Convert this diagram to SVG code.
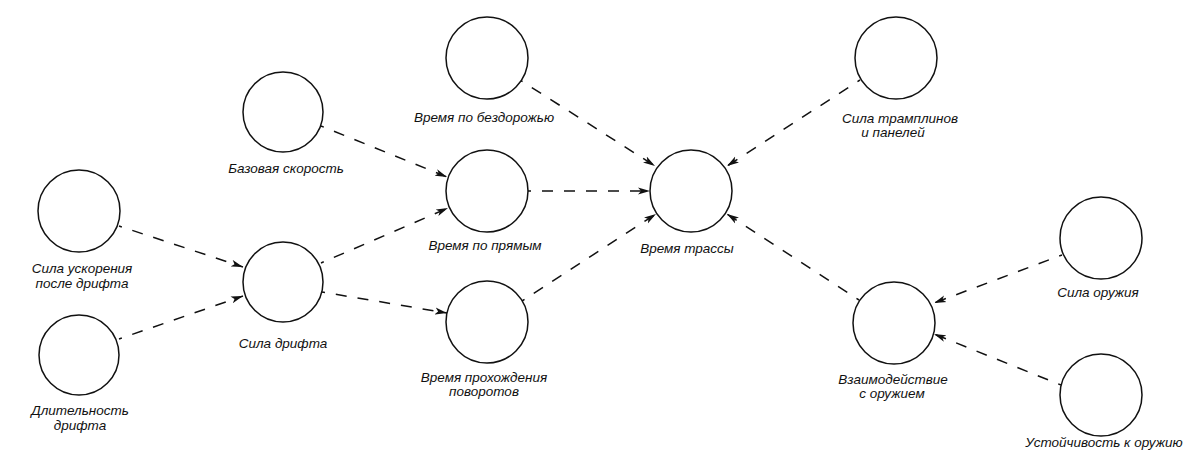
<svg xmlns="http://www.w3.org/2000/svg" width="1200" height="476" viewBox="0 0 1200 476">
<style>
.n circle{fill:#fff;stroke:#111;stroke-width:1.5}
.n text{font-family:"Liberation Sans",Arial,sans-serif;font-style:italic;font-size:13.5px;fill:#111;text-anchor:middle}
.e line{stroke:#111;stroke-width:1.5;stroke-dasharray:11 11;stroke-dashoffset:8;fill:none;marker-end:url(#ah)}
</style>
<defs>
<marker id="ah" viewBox="0 0 12 8" refX="12" refY="4" markerWidth="12" markerHeight="8" markerUnits="userSpaceOnUse" orient="auto">
<path d="M0,0.5 L12,4 L0,7.5 L3,4 Z" fill="#111"/>
</marker>
</defs>
<rect width="1200" height="476" fill="#fff"/>
<g id="connectors" class="e">
<line x1="119" y1="226" x2="243" y2="267"/>
<line x1="119" y1="339" x2="243" y2="296"/>
<line x1="321" y1="126" x2="447" y2="177"/>
<line x1="321" y1="263" x2="448" y2="208"/>
<line x1="322" y1="292" x2="447" y2="313"/>
<line x1="520" y1="80" x2="655" y2="166"/>
<line x1="528" y1="191" x2="650" y2="191"/>
<line x1="522" y1="301" x2="656" y2="214"/>
<line x1="860" y1="80" x2="727" y2="166"/>
<line x1="859" y1="300" x2="727" y2="214"/>
<line x1="1062" y1="255" x2="934" y2="303"/>
<line x1="1061" y1="385" x2="934" y2="334"/>
</g>
<g id="n1" class="n"><circle cx="79" cy="211" r="41"/><text x="82" y="273">Сила ускорения</text><text x="82" y="288">после дрифта</text></g>
<g id="n2" class="n"><circle cx="79" cy="355" r="40"/><text x="80" y="415">Длительность</text><text x="80" y="430">дрифта</text></g>
<g id="n3" class="n"><circle cx="283" cy="282" r="40"/><text x="283" y="348">Сила дрифта</text></g>
<g id="n4" class="n"><circle cx="283" cy="112" r="40"/><text x="286" y="173">Базовая скорость</text></g>
<g id="n5" class="n"><circle cx="487" cy="58" r="41"/><text x="484" y="122">Время по бездорожью</text></g>
<g id="n6" class="n"><circle cx="487" cy="191" r="41"/><text x="485" y="250">Время по прямым</text></g>
<g id="n7" class="n"><circle cx="487" cy="322" r="41"/><text x="484" y="382">Время прохождения</text><text x="484" y="396">поворотов</text></g>
<g id="n8" class="n"><circle cx="691" cy="191" r="41"/><text x="687" y="253">Время трассы</text></g>
<g id="n9" class="n"><circle cx="896" cy="58" r="41"/><text x="900" y="123">Сила трамплинов</text><text x="893" y="137">и панелей</text></g>
<g id="n10" class="n"><circle cx="1101" cy="238" r="41"/><text x="1098" y="297">Сила оружия</text></g>
<g id="n11" class="n"><circle cx="894" cy="323" r="41"/><text x="893" y="384">Взаимодействие</text><text x="892" y="398">с оружием</text></g>
<g id="n12" class="n"><circle cx="1101" cy="395" r="41"/><text x="1104" y="447">Устойчивость к оружию</text></g>
</svg>
